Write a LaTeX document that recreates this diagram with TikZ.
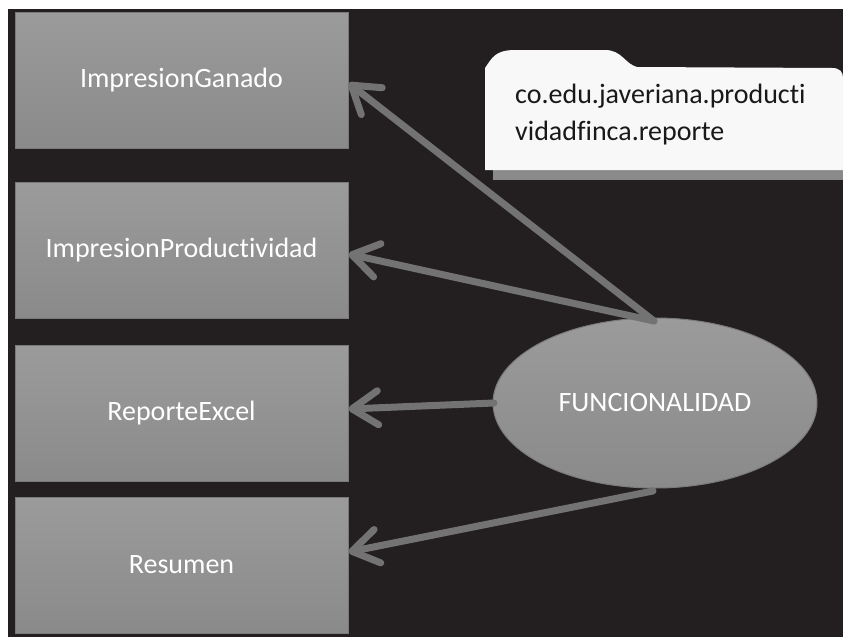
\documentclass[tikz,border=0pt]{standalone}
\usepackage{fontspec}
\setmainfont{Carlito}[Ligatures={NoCommon}]
\usetikzlibrary{arrows.meta,shapes.geometric}
\definecolor{bgdark}{HTML}{231F20}
\definecolor{boxtop}{HTML}{9B9B9B}
\definecolor{boxbottom}{HTML}{8A8A8A}
\definecolor{boxedge}{HTML}{7A7A7A}
\definecolor{arrowgray}{HTML}{737373}
\definecolor{notewhite}{HTML}{F8F8F8}
\tikzset{
  classbox/.style={draw=boxedge, line width=1pt, top color=boxtop, bottom color=boxbottom,
    minimum width=333pt, minimum height=136pt, inner sep=0pt, text=white, font=\fontsize{28}{30}\selectfont},
  funcnode/.style={ellipse, draw=boxedge, line width=1pt, top color=boxtop, bottom color=boxbottom,
    minimum width=324pt, minimum height=170pt, inner sep=0pt, text=white, font=\fontsize{28}{30}\selectfont},
  flow/.style={draw=arrowgray, line width=7pt, line cap=round,
    -{Straight Barb[length=26pt,width=34pt,round]}},
  notetext/.style={align=left, anchor=north west, inner sep=0pt, text=black!90,
    font=\fontsize{28}{37}\selectfont}
}
\begin{document}
\begin{tikzpicture}[x=1pt,y=-1pt]
  \useasboundingbox (0,0) rectangle (843,637);
  \fill[white] (0,0) rectangle (843,637);
  \fill[bgdark] (8,9) rectangle (843,637);

  % package folder
  \fill[boxbottom] (493,170) rectangle (843,180);
  \fill[notewhite] (485,170) -- (485,68)
     .. controls (492,58) and (495,50) .. (515,50)
     -- (605,50)
     .. controls (622,50) and (625,64) .. (637,67)
     -- (832,68) .. controls (840,68) and (843,72) .. (843,78)
     -- (843,170) -- cycle;
  \node[notetext] (pkg) at (515,84) {co.edu.javeriana.producti\\vidadfinca.reporte};

  % classes
  \node[classbox] (ganado) at (181.5,80) {\raisebox{-3pt}{ImpresionGanado}};
  \node[classbox] (prod) at (181.5,250.5) {\raisebox{-3pt}{ImpresionProductividad}};
  \node[classbox] (excel) at (181.5,413.5) {\raisebox{-3pt}{ReporteExcel}};
  \node[classbox] (resumen) at (181.5,565) {\raisebox{-3pt}{Resumen}};

  % central functionality
  \node[funcnode] (func) at (655,403) {FUNCIONALIDAD};

  % dependencies
  \coordinate (ftop) at (654,321);
  \coordinate (fbot) at (653,491);
  \coordinate (fleft) at (494,403);
  \draw[flow] (ftop) -- (ganado.east |- 0,83);
  \draw[flow] (ftop) -- (prod.east |- 0,254);
  \draw[flow] (fleft) -- (excel.east |- 0,409);
  \draw[flow] (fbot) -- (resumen.east |- 0,552);
\end{tikzpicture}
\end{document}
